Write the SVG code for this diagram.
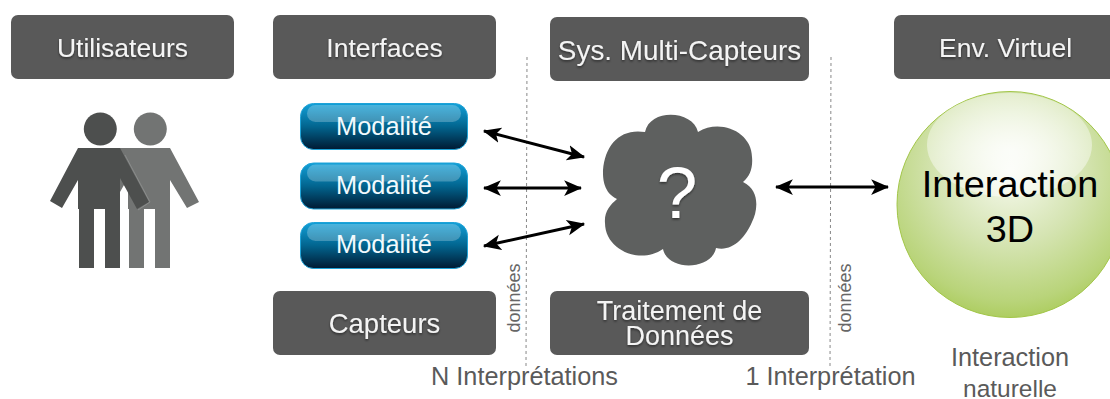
<svg xmlns="http://www.w3.org/2000/svg" width="1110" height="399" viewBox="0 0 1110 399">
<style>
text{font-family:"Liberation Sans",Arial,sans-serif;text-anchor:middle}
.box{fill:#595959}
.hd{fill:#f4f4f4;font-size:26.500px;filter:url(#ts)}
.mod{fill:#f2fafd;font-size:25.400px}
.lab{fill:#5a5a5a;font-size:25.300px}
.don{fill:#666;font-size:18px}
.btn{fill:url(#bg);stroke:#1fa3d8;stroke-width:1}
.gl{fill:#fff;fill-opacity:.24}
.ar{stroke:#000;stroke-width:3;fill:none;marker-start:url(#ah);marker-end:url(#ah)}
.da{stroke:#888;stroke-width:1;stroke-dasharray:3 3;fill:none}
.p1{fill:#4d4f4e}
.p2{fill:#727473}
</style>
<defs>
<linearGradient id="bg" x1="0" y1="0" x2="0" y2="1"><stop offset="0" stop-color="#12a0d8"/><stop offset=".5" stop-color="#02658f"/><stop offset="1" stop-color="#001a33"/></linearGradient>
<radialGradient id="sg" cx=".5" cy=".35" r=".72"><stop offset="0" stop-color="#f7faf0"/><stop offset=".45" stop-color="#d5e4b2"/><stop offset=".8" stop-color="#b9d47a"/><stop offset="1" stop-color="#a3c74a"/></radialGradient>
<radialGradient id="hl" cx=".5" cy=".55" r=".6"><stop offset="0" stop-color="#fff" stop-opacity=".8"/><stop offset="1" stop-color="#fff" stop-opacity=".35"/></radialGradient>
<filter id="ts" x="-10%" y="-20%" width="120%" height="150%"><feDropShadow dx="0" dy="1.500" stdDeviation="1" flood-color="#000" flood-opacity=".5"/></filter>
<marker id="ah" viewBox="0 0 16 14" refX="15" refY="7" markerWidth="18" markerHeight="17" markerUnits="userSpaceOnUse" orient="auto-start-reverse"><path d="M0 0L16 7L0 14L4 7Z" fill="#000"/></marker>
</defs>
<g id="utilisateurs"><rect class="box" x="11" y="15" width="223" height="64" rx="7"/><text class="hd" x="122.500" y="57">Utilisateurs</text></g>
<g id="interfaces"><rect class="box" x="273" y="15" width="223" height="64" rx="7"/><text class="hd" x="384.500" y="57">Interfaces</text></g>
<g id="sys"><rect class="box" x="550" y="17" width="259" height="64" rx="7"/><text class="hd" x="679.500" y="60" style="font-size:27.900px">Sys. Multi-Capteurs</text></g>
<g id="env"><rect class="box" x="894" y="15" width="230" height="64" rx="7"/><text class="hd" x="1005.500" y="57">Env. Virtuel</text></g>
<g id="capteurs"><rect class="box" x="273" y="291" width="223" height="64" rx="7"/><text class="hd" x="384.500" y="333" style="font-size:27.500px">Capteurs</text></g>
<g id="traitement"><rect class="box" x="550" y="291" width="259" height="64" rx="7"/><text class="hd" x="679.500" y="320" style="font-size:27px">Traitement de</text><text class="hd" x="679.500" y="345" style="font-size:27px">Données</text></g>
<g id="users">
<g id="user2" class="p2"><circle cx="150.300" cy="129" r="16.500"/><path d="M128 148H170L199 202L187 208L170 180V268H155V209H144V268H129V209H128V178L120 192V148Z"/></g>
<g id="user1" class="p1"><circle cx="100.300" cy="129" r="16.500"/><path d="M78 148H120L149 202L137 209L120 178V268H105V209H94V268H79V209H78V180L62 208L50 201Z"/><path d="M125 155L150 202L138 210" fill="none" stroke="#8a8c8b" stroke-width="1"/></g>
</g>
<g id="modalite1"><rect class="btn" x="300.500" y="103.500" width="167" height="46" rx="13"/><rect class="gl" x="307" y="105" width="154" height="17" rx="8.500"/><text class="mod" x="384" y="135">Modalité</text></g>
<g id="modalite2"><rect class="btn" x="300.500" y="163" width="167" height="46" rx="13"/><rect class="gl" x="307" y="164.500" width="154" height="17" rx="8.500"/><text class="mod" x="384" y="194">Modalité</text></g>
<g id="modalite3"><rect class="btn" x="300.500" y="222.500" width="167" height="46" rx="13"/><rect class="gl" x="307" y="224" width="154" height="17" rx="8.500"/><text class="mod" x="384" y="253">Modalité</text></g>
<g id="cloud"><path fill="#5e605f" d="M645 132C650 108 693 110 698 132C720 118 752 132 752 157C753 168 750 176 743 182C760 190 758 210 752 222C745 238 732 252 716 248C712 270 668 272 663 249C640 265 605 250 605 223C604 212 610 205 617 199C602 192 603 175 603 170C605 145 620 128 645 132Z"/><text x="677" y="218" fill="#fff" font-size="73" filter="url(#ts)">?</text></g>
<g id="sphere"><circle cx="1010" cy="204.500" r="113" fill="url(#sg)" stroke="#a2c648" stroke-width="1"/><ellipse cx="1009.500" cy="145" rx="82.500" ry="52" fill="url(#hl)"/><text x="1010" y="197" font-size="37.800" fill="#000">Interaction</text><text x="1010" y="242" font-size="37.800" fill="#000">3D</text></g>
<g id="connectors">
<path class="da" d="M527 57L526 366"/><path class="da" d="M831 57L830 366"/>
<path class="ar" d="M484 131L584 157"/><path class="ar" d="M484 188L581 188"/><path class="ar" d="M484 246L584 224"/><path class="ar" d="M776 187L888 187"/>
</g>
<g id="labels">
<text class="don" transform="translate(520 298) rotate(-90)">données</text>
<text class="don" transform="translate(851 298) rotate(-90)">données</text>
<text class="lab" x="524.500" y="385">N Interprétations</text>
<text class="lab" x="830.500" y="385">1 Interprétation</text>
<text class="lab" x="1010" y="366">Interaction</text>
<text class="lab" x="1010" y="397" style="font-size:24.500px">naturelle</text>
</g>
</svg>
